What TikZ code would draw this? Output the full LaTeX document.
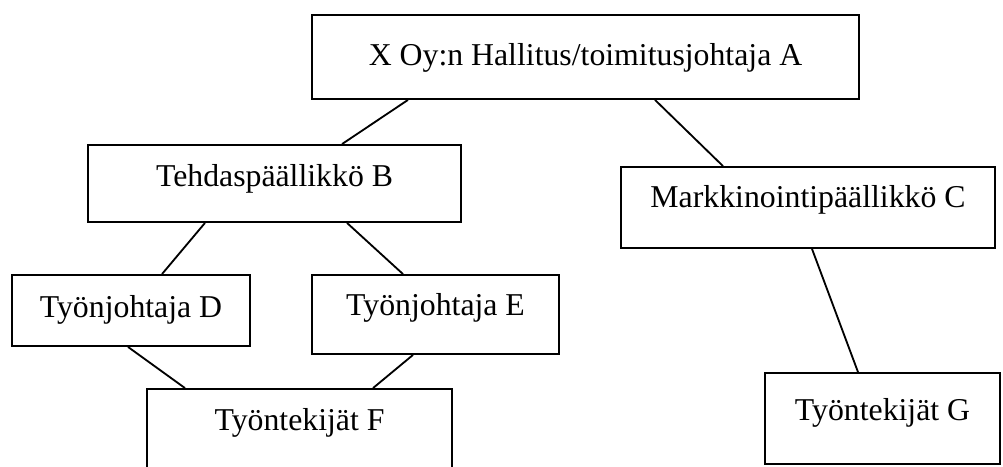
\documentclass[tikz,border=0pt]{standalone}
\usepackage{fontspec}
\setmainfont{Liberation Serif}
\usepackage{tikz}

\begin{document}
\begin{tikzpicture}[
    x=0.025cm, y=-0.025cm,
    box/.style={draw, line width=1.3pt, inner sep=0pt, text height=1.025cm, font=\fontsize{22.6}{27}\selectfont},
    link/.style={line width=1.3pt}
]
\clip (0,0) rectangle (1003,466);
\node[box, minimum width=13.675cm, text height=1.25cm, text depth=0.85cm] (hallitus) at (585.5,57) {X Oy:n Hallitus/toimitusjohtaja A};
\node[box, minimum width=9.325cm, text depth=0.9cm] (tehdas) at (274.5,183.5) {Tehdaspäällikkö B};
\node[box, minimum width=9.35cm, text height=1.0cm, text depth=1.025cm] (markkinointi) at (808,207.5) {Markkinointipäällikkö C};
\node[box, minimum width=5.95cm, text height=1.05cm, text depth=0.725cm] (johtajaD) at (131,310.5) {Työnjohtaja D};
\node[box, minimum width=6.175cm, text height=1.0cm, text depth=0.975cm] (johtajaE) at (435.5,314.5) {Työnjohtaja E};
\node[box, minimum width=7.625cm, text depth=1.725cm] (tekijatF) at (299.5,444) {Työntekijät F};
\node[box, minimum width=5.875cm, text height=1.175cm, text depth=1.1cm] (tekijatG) at (882.5,418.5) {Työntekijät G};
\draw[link] ([xshift=-4.4375cm]hallitus.south) -- ([xshift=1.6875cm]tehdas.north);
\draw[link] ([xshift=1.7375cm]hallitus.south) -- ([xshift=-2.125cm]markkinointi.north);
\draw[link] ([xshift=-1.7375cm]tehdas.south) -- ([xshift=0.775cm]johtajaD.north);
\draw[link] ([xshift=1.8125cm]tehdas.south) -- ([xshift=-0.8125cm]johtajaE.north);
\draw[link] ([xshift=-0.075cm]johtajaD.south) -- ([xshift=-2.8625cm]tekijatF.north);
\draw[link] ([xshift=-0.5625cm]johtajaE.south) -- ([xshift=1.8375cm]tekijatF.north);
\draw[link] ([xshift=0.1cm]markkinointi.south) -- ([xshift=-0.6125cm]tekijatG.north);
\end{tikzpicture}
\end{document}
